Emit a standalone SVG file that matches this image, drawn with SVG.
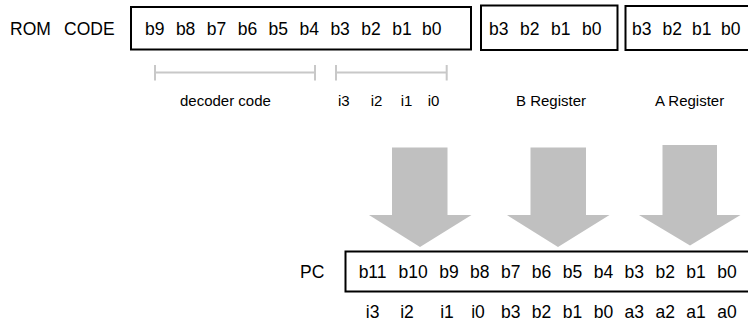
<svg xmlns="http://www.w3.org/2000/svg" width="748" height="322" viewBox="0 0 748 322">
<style>
.box{fill:#fff;stroke:#000;stroke-width:2}
.t{font-family:"Liberation Sans",Arial,sans-serif;font-size:17.5px;fill:#000}
.l{font-family:"Liberation Sans",Arial,sans-serif;font-size:15px;fill:#000}
.br{stroke:#c8c8c8;stroke-width:2;fill:none}
.arr{fill:#c0c0c0}
.m{text-anchor:middle}
</style>
<rect width="748" height="322" fill="#fff"/>
<g id="rom-label"><text class="t" y="35"><tspan x="10">ROM</tspan><tspan x="64">CODE</tspan></text></g>
<g id="rom-code">
<rect class="box" x="131" y="7" width="340" height="42.5"/>
<text class="t" y="35"><tspan x="145">b9</tspan><tspan x="175.9">b8</tspan><tspan x="206.8">b7</tspan><tspan x="237.7">b6</tspan><tspan x="268.6">b5</tspan><tspan x="299.5">b4</tspan><tspan x="330.4">b3</tspan><tspan x="361.3">b2</tspan><tspan x="392.2">b1</tspan><tspan x="422">b0</tspan></text>
</g>
<g id="b-register">
<rect class="box" x="481" y="5.5" width="136.5" height="44.5"/>
<text class="t" y="35"><tspan x="489">b3</tspan><tspan x="520">b2</tspan><tspan x="551">b1</tspan><tspan x="582">b0</tspan></text>
</g>
<g id="a-register">
<rect class="box" x="625.5" y="6" width="130" height="44"/>
<text class="t" y="35"><tspan x="632">b3</tspan><tspan x="662.5">b2</tspan><tspan x="692">b1</tspan><tspan x="721">b0</tspan></text>
</g>
<g id="brackets">
<path class="br" d="M155 72.5H315M155 65V80.5M315 65V80.5"/>
<path class="br" d="M336 72.5H446.7M336 65V80.5M446.7 65V80.5"/>
</g>
<g id="labels">
<text class="l" x="180" y="106">decoder code</text>
<text class="l" y="106"><tspan x="338">i3</tspan><tspan x="370.7">i2</tspan><tspan x="400.7">i1</tspan><tspan x="427.7">i0</tspan></text>
<text class="l" x="516" y="106">B Register</text>
<text class="l" x="655" y="106">A Register</text>
</g>
<g id="connectors">
<polygon class="arr" points="392,147.5 447.5,147.5 447.5,215 471.5,215 420,247 369,215 392,215"/>
<polygon class="arr" points="530.5,147.5 586,147.5 586,215 609.5,215 558,247 507,215 530.5,215"/>
<polygon class="arr" points="662.5,145 717,145 717,215 740.5,215 690,245.5 639,215 662.5,215"/>
</g>
<g id="pc-label"><text class="t" x="300" y="278">PC</text></g>
<g id="pc">
<rect class="box" x="345.5" y="251.5" width="410" height="40"/>
<text class="t m" y="278"><tspan x="372.6">b11</tspan><tspan x="413.2">b10</tspan><tspan x="449">b9</tspan><tspan x="479.8">b8</tspan><tspan x="510.7">b7</tspan><tspan x="541.6">b6</tspan><tspan x="572.5">b5</tspan><tspan x="603.4">b4</tspan><tspan x="634.3">b3</tspan><tspan x="665.2">b2</tspan><tspan x="696.1">b1</tspan><tspan x="727">b0</tspan></text>
<text class="t m" y="318"><tspan x="372.6">i3</tspan><tspan x="407">i2</tspan><tspan x="447">i1</tspan><tspan x="478">i0</tspan><tspan x="510.7">b3</tspan><tspan x="541.6">b2</tspan><tspan x="572.5">b1</tspan><tspan x="603.4">b0</tspan><tspan x="634.3">a3</tspan><tspan x="665.2">a2</tspan><tspan x="696.1">a1</tspan><tspan x="727">a0</tspan></text>
</g>
</svg>
